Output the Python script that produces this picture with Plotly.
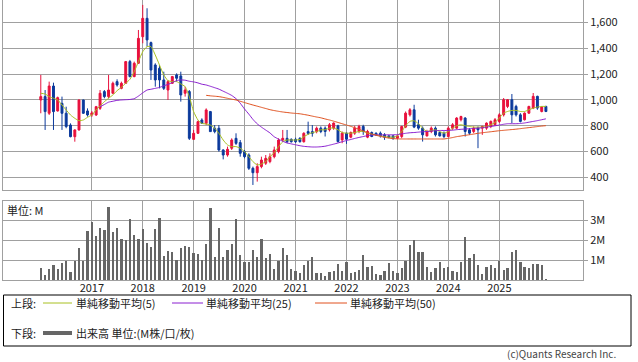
import plotly.graph_objects as go
import pandas as pd

# ---- data (monthly, Jan 2016 - Dec 2025) ----
months = pd.date_range("2016-01-01", periods=120, freq="MS")

open_ = [1000,1026,897,1108,915,974,897,806,716,768,1000,915,
         884,884,935,1065,1026,1052,1142,1090,1129,1297,1181,1284,
         1490,1632,1444,1271,1245,1155,1077,1129,1194,1186,1052,1065,
         695,742,845,819,910,781,781,613,574,626,703,670,
         600,574,471,437,484,510,523,561,600,690,703,695,
         695,703,677,755,755,755,782,782,769,782,800,691,
         743,712,743,756,795,712,748,743,743,730,722,722,
         704,717,790,885,924,808,782,722,756,782,748,743,
         717,782,782,847,860,769,756,782,782,782,795,808,
         834,885,950,1002,950,885,847,898,937,1028,911,950]
high = [1194,1077,1142,1134,1026,1026,948,819,773,1003,1002,935,
        915,954,1077,1077,1194,1142,1160,1142,1302,1310,1297,1542,
        1736,1710,1452,1284,1271,1219,1155,1186,1206,1219,1103,1077,
        768,840,858,935,915,806,806,618,639,703,742,690,
        613,587,484,510,561,574,587,639,703,768,768,703,
        708,712,750,832,806,794,795,795,821,826,808,756,
        748,756,800,808,808,769,756,748,756,743,730,730,
        730,800,911,937,963,847,795,769,795,795,756,756,
        795,821,867,878,867,782,795,795,800,826,841,860,
        898,1015,1007,1046,963,898,904,955,1054,1033,950,955]
low = [897,768,884,768,910,768,781,711,677,763,892,871,
       870,876,923,1013,1013,1046,1103,1083,1124,1175,1176,1279,
       1439,1413,1155,1103,1090,1077,1000,1124,1142,987,1026,690,
       690,737,814,806,752,742,600,540,561,613,652,561,
       548,458,342,368,471,497,510,548,587,677,664,670,
       668,670,670,729,716,742,743,717,756,769,671,665,
       660,704,730,743,730,704,712,722,709,691,704,691,
       696,704,782,872,782,769,678,717,743,717,717,704,
       712,769,774,834,717,730,743,627,730,769,782,800,
       821,872,937,821,872,826,841,893,929,924,904,906]
close = [1026,910,1108,910,1018,897,794,716,768,1000,897,884,
         900,948,1052,1026,1077,1129,1116,1129,1297,1181,1284,1477,
         1632,1465,1232,1155,1155,1090,1142,1181,1168,1039,1077,703,
         742,832,819,923,755,755,613,574,618,690,664,587,
         561,471,437,484,535,548,561,613,690,703,677,677,
         677,677,742,742,742,781,756,756,808,821,678,743,
         696,748,782,795,756,756,717,730,722,712,712,704,
         722,795,898,924,790,782,730,756,782,730,722,717,
         782,808,860,872,756,743,782,769,795,821,834,847,
         885,1002,1002,885,885,834,898,950,1028,937,945,911]

ma5 = [1052,1046,1026,1013,1000,961,923,884,858,840,845,866,
       884,923,954,987,1013,1039,1072,1098,1129,1160,1219,1297,
       1374,1413,1413,1348,1271,1194,1150,1142,1142,1124,1103,1026,
       910,845,819,814,806,781,742,690,652,639,639,626,
       600,561,523,497,504,523,561,592,639,677,690,690,
       690,695,716,734,747,755,769,769,782,782,769,748,
       743,743,748,756,756,743,735,730,722,717,712,712,
       722,756,800,834,839,816,782,756,764,769,756,743,
       756,782,800,808,800,795,790,790,790,795,808,826,
       860,898,911,919,919,911,911,924,937,945,950,950]
ma25 = [None]*14 + [948,965,983,990,997,1000,1002,1004,1010,1030,
        1055,1077,1083,1090,1097,1110,1120,1135,1150,1155,1153,1145,
        1140,1132,1122,1116,1106,1095,1084,1068,1052,1035,1010,975,
        930,890,850,815,790,767,745,715,697,680,668,660,
        653,646,641,638,636,636,638,642,650,658,667,677,
        686,694,702,710,717,724,728,730,730,730,730,730,
        732,737,742,746,748,751,754,756,759,762,764,764,
        764,766,770,773,775,778,780,782,785,790,795,800,
        806,812,816,816,816,818,822,828,834,840,847,854]
ma50 = [None]*39 + [1036,1032,1029,1026,1020,1013,1006,1000,990,
        980,970,961,952,943,934,925,918,912,907,903,899,
        896,893,888,882,875,868,862,853,845,836,826,816,
        806,796,785,773,760,748,737,727,718,711,705,701,
        699,698,698,698,698,698,698,698,698,698,698,698,
        703,709,716,721,726,731,736,742,746,750,754,758,
        762,765,768,771,774,778,782,786,790,794,798,801]

volume_m = [0.63,0.27,0.57,0.77,0.57,0.87,0.97,0.42,0.97,1.63,1.00,2.47,
            2.93,2.22,2.62,2.53,3.67,2.42,2.62,2.07,2.02,3.07,2.27,2.07,
            2.58,1.87,1.67,2.58,3.12,1.22,1.47,1.42,1.02,1.62,1.72,1.67,
            1.37,1.32,1.02,1.82,3.62,1.17,2.62,1.17,1.52,1.82,3.07,1.27,
            0.92,0.92,1.52,1.17,2.07,1.12,1.32,0.57,0.97,1.62,1.27,0.57,
            0.47,0.37,0.77,0.97,1.17,0.37,0.37,0.22,0.42,0.47,0.82,0.47,
            0.92,0.37,0.42,0.52,1.27,0.67,0.72,0.32,0.27,0.47,0.87,0.47,
            0.37,0.62,0.97,1.77,2.02,1.42,1.42,0.67,0.42,0.62,0.92,0.62,
            0.67,0.47,0.42,0.92,2.17,1.12,1.32,0.77,0.32,0.67,0.77,0.62,
            0.97,0.52,0.62,1.42,1.52,0.92,0.67,0.62,0.82,0.82,0.77,0.07]

year_ticks = [f"{y}-01-01" for y in range(2017, 2026)]
year_labels = [str(y) for y in range(2017, 2026)]
price_ticks = [400, 600, 800, 1000, 1200, 1400, 1600]
vol_ticks = [1, 2, 3]
vol_labels = ["1M", "2M", "3M"]

legend_items = ["単純移動平均(5)", "単純移動平均(25)", "単純移動平均(50)"]

# ---- styling ----
W, H = 638, 362
ML, MR, MT, MB = 3, 55, 0, 0
RED = "#e8103c"
BLUE = "#0c3a9c"
C5 = "#a8c020"
C25 = "#8a1ed0"
C50 = "#e0501e"
GRID = "#a0a0a0"
FONT = "Noto Sans CJK JP"

def px(x):
    # pixel x -> paper fraction (paper spans the plot area between margins)
    return (x - ML) / (W - ML - MR)

def py(y):
    return (H - MB - y) / (H - MT - MB)

fig = go.Figure()
fig.add_trace(go.Candlestick(
    x=months, open=open_, high=high, low=low, close=close,
    increasing=dict(line=dict(color=RED, width=1), fillcolor=RED),
    decreasing=dict(line=dict(color=BLUE, width=1), fillcolor=BLUE),
    whiskerwidth=0, showlegend=False, hoverinfo="skip",
    xaxis="x", yaxis="y"))
for vals, col in [(ma5, C5), (ma25, C25), (ma50, C50)]:
    fig.add_trace(go.Scatter(x=months, y=vals, mode="lines",
                             line=dict(color=col, width=1, shape="spline", smoothing=0.6),
                             showlegend=False, hoverinfo="skip",
                             xaxis="x", yaxis="y"))
fig.add_trace(go.Bar(x=months, y=volume_m, marker=dict(color="#666666", line=dict(width=0)),
                     width=16.5 * 86400000, showlegend=False, hoverinfo="skip",
                     xaxis="x2", yaxis="y2"))

xr = ["2015-04-05", "2026-08-24"]
axis_common = dict(showgrid=True, gridcolor=GRID, gridwidth=1, showline=True,
                   linecolor=GRID, linewidth=1, mirror=True, zeroline=False)

fig.update_layout(
    width=W, height=H,
    margin=dict(l=ML, r=MR, t=MT, b=MB, autoexpand=False),
    paper_bgcolor="white", plot_bgcolor="white",
    font=dict(family=FONT, size=11, color="#222222"),
    xaxis=dict(domain=[0, 1], range=xr, type="date", tickvals=year_ticks,
               showticklabels=False, anchor="y", **axis_common),
    yaxis=dict(domain=[py(190), 1], range=[303, 1774], side="right",
               tickvals=price_ticks, tickformat=",", ticks="outside",
               ticklen=4, tickcolor=GRID, anchor="x", **axis_common),
    xaxis2=dict(domain=[0, 1], range=xr, type="date", tickvals=year_ticks,
                ticktext=year_labels, anchor="y2", matches="x",
                ticklabelstandoff=-3,
                rangeslider=dict(visible=False), **axis_common),
    yaxis2=dict(domain=[py(280.3), py(200.7)], range=[0, 3.97], side="right",
                tickvals=vol_ticks, ticktext=vol_labels, ticks="outside",
                ticklen=4, tickcolor=GRID, anchor="x2", **axis_common),
    bargap=0,
    showlegend=False,
)
fig.update_xaxes(rangeslider_visible=False)

shapes = [
    dict(type="rect", xref="paper", yref="paper", x0=px(3.5), x1=px(631), y0=py(346), y1=py(295),
         line=dict(color="black", width=1), fillcolor="rgba(0,0,0,0)"),
    dict(type="line", xref="paper", yref="paper", x0=px(43), x1=px(72), y0=py(303), y1=py(303),
         line=dict(color=C5, width=1)),
    dict(type="line", xref="paper", yref="paper", x0=px(172), x1=px(203), y0=py(303), y1=py(303),
         line=dict(color=C25, width=1)),
    dict(type="line", xref="paper", yref="paper", x0=px(315), x1=px(347), y0=py(303), y1=py(303),
         line=dict(color=C50, width=1)),
    dict(type="line", xref="paper", yref="paper", x0=px(43), x1=px(72), y0=py(333), y1=py(333),
         line=dict(color="#666666", width=4)),
]
fig.update_layout(shapes=shapes)

def ann(text, x, y, anchor="left", size=11, color="#222222"):
    return dict(text=text, x=px(x), y=py(y), xref="paper", yref="paper",
                xanchor=anchor, yanchor="middle", showarrow=False,
                font=dict(family=FONT, size=size, color=color))

anns = [
    ann("上段:", 9, 303),
    ann(legend_items[0], 74, 303),
    ann(legend_items[1], 204, 303),
    ann(legend_items[2], 348, 303),
    ann("下段:", 9, 333),
    ann("出来高 単位:(M株/口/枚)", 74, 333),
    ann("単位: M", 5, 210),
    ann("(c)Quants Research Inc.", 618, 353.5, anchor="right", size=10, color="#444444"),
]
fig.update_layout(annotations=anns)

fig.write_html("out.html", config={"displayModeBar": False},
               post_script="document.body.style.margin='0';document.body.style.overflow='hidden';")
